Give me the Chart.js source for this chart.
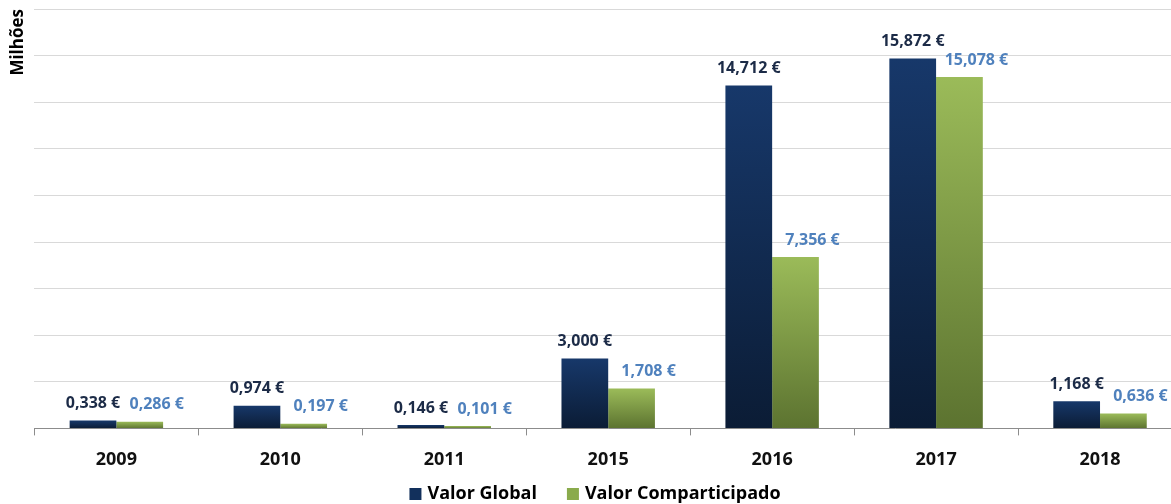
<!DOCTYPE html>
<html>
<head>
<meta charset="utf-8">
<script src="https://cdn.jsdelivr.net/npm/chart.js@4/dist/chart.umd.min.js"></script>
<style>
  html, body { margin: 0; padding: 0; background: #fff; overflow: hidden; }
  #wrap { width: 1182px; height: 504px; }
</style>
</head>
<body>
<div id="wrap"><canvas id="chart"></canvas></div>
<script>
const years = ["2009", "2010", "2011", "2015", "2016", "2017", "2018"];
const valorGlobal = [0.338, 0.974, 0.146, 3.000, 14.712, 15.872, 1.168];
const valorComparticipado = [0.286, 0.197, 0.101, 1.708, 7.356, 15.078, 0.636];
const seriesNames = ["Valor Global", "Valor Comparticipado"];
const legendColors = ["#12305c", "#8aab4c"];

function fmt(v) {
  return v.toFixed(3).replace(".", ",") + " €";
}

// vertical gradient per bar, like the Excel fill
function barFill(top, bottom) {
  return (ctx) => {
    const chart = ctx.chart;
    if (!chart.chartArea || ctx.parsed == null) return top;
    const y = chart.scales.y;
    const y0 = y.getPixelForValue(ctx.parsed.y);
    const y1 = y.getPixelForValue(0);
    if (!isFinite(y0) || !isFinite(y1) || y0 === y1) return top;
    const g = chart.ctx.createLinearGradient(0, y0, 0, y1);
    g.addColorStop(0, top);
    g.addColorStop(1, bottom);
    return g;
  };
}

const labelPlugin = {
  id: "barLabels",
  afterDatasetsDraw(chart) {
    const c = chart.ctx;
    c.save();
    c.font = "bold 16px 'Open Sans'";
    c.textAlign = "center";
    c.textBaseline = "middle";
    chart.data.datasets.forEach((ds, i) => {
      const meta = chart.getDatasetMeta(i);
      meta.data.forEach((bar, j) => {
        c.fillStyle = i === 0 ? "#1c2b47" : "#4f81bd";
        const dx = i === 0 ? 0 : 17;
        c.fillText(fmt(ds.data[j]), bar.x + dx, bar.y - 17);
      });
    });
    c.restore();
  }
};

// legend drawn by hand so the gap between the two entries matches
const legendPlugin = {
  id: "bottomLegend",
  afterDraw(chart) {
    const c = chart.ctx;
    c.save();
    c.font = "bold 18px 'Open Sans'";
    c.textBaseline = "middle";
    const box = 12, gapText = 6, gapItem = 30;
    const widths = chart.data.datasets.map((ds) => c.measureText(ds.label).width);
    let total = 0;
    widths.forEach((w, i) => { total += box + gapText + w + (i ? gapItem : 0); });
    let x = chart.width / 2 - total / 2 + 4;
    const y = 494;
    chart.data.datasets.forEach((ds, i) => {
      c.fillStyle = legendColors[i];
      c.fillRect(x, y - box / 2, box, box);
      c.fillStyle = "#000";
      c.fillText(ds.label, x + box + gapText, y);
      x += box + gapText + widths[i] + gapItem;
    });
    c.restore();
  }
};

new Chart(document.getElementById("chart"), {
  type: "bar",
  data: {
    labels: years,
    datasets: [
      {
        label: seriesNames[0],
        data: valorGlobal,
        backgroundColor: barFill("#17386a", "#0b1c35"),
        barPercentage: 1,
        categoryPercentage: 0.57
      },
      {
        label: seriesNames[1],
        data: valorComparticipado,
        backgroundColor: barFill("#9bbb59", "#5c7330"),
        barPercentage: 1,
        categoryPercentage: 0.57
      }
    ]
  },
  options: {
    responsive: true,
    maintainAspectRatio: false,
    animation: false,
    layout: { padding: { top: 9, left: 8, right: 0, bottom: 19 } },
    scales: {
      x: {
        grid: {
          drawOnChartArea: false,
          drawTicks: true,
          tickLength: 7,
          color: "#8c8c8c",
          offset: true
        },
        border: { color: "#8c8c8c" },
        ticks: {
          color: "#111",
          font: { family: "'Open Sans'", size: 18, weight: "bold" },
          padding: 14
        }
      },
      y: {
        min: 0,
        max: 18,
        ticks: { stepSize: 2, display: false },
        grid: { color: "#d9d9d9", drawTicks: false },
        border: { display: false },
        title: {
          display: true,
          text: "Milhões",
          align: "end",
          color: "#000",
          font: { family: "'Open Sans'", size: 17, weight: "bold" },
          padding: { top: 0, bottom: 6 }
        }
      }
    },
    plugins: {
      legend: { display: false },
      tooltip: { enabled: false }
    }
  },
  plugins: [labelPlugin, legendPlugin]
});
</script>
</body>
</html>
